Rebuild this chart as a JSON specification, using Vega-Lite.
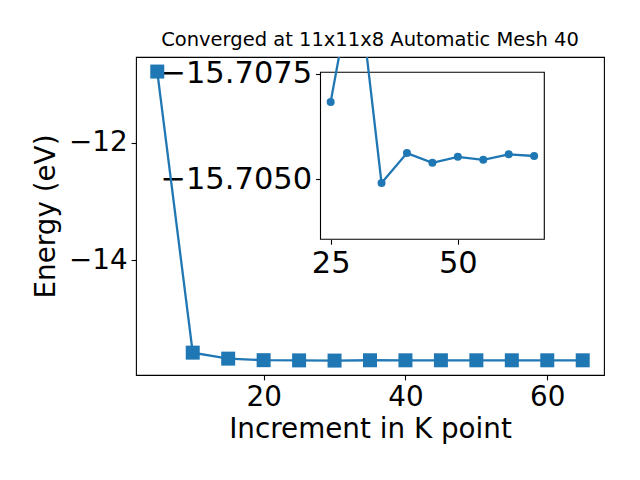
{
  "$schema": "https://vega.github.io/schema/vega-lite/v6.json",
  "width": 468,
  "height": 318,
  "autosize": {"type": "none"},
  "padding": {"left": 136, "top": 57, "right": 36, "bottom": 105},
  "background": "white",
  "title": {
    "text": "Converged at 11x11x8 Automatic Mesh 40",
    "font": "DejaVu Sans",
    "fontSize": 19.5,
    "fontWeight": "normal",
    "color": "black",
    "baseline": "alphabetic",
    "offset": 8,
    "dy": 16
  },
  "config": {
    "view": {"stroke": "black", "strokeWidth": 1.1},
    "axis": {
      "labelFont": "DejaVu Sans",
      "titleFont": "DejaVu Sans",
      "labelFontSize": 27.8,
      "titleFontSize": 27.8,
      "titleFontWeight": "normal",
      "labelColor": "black",
      "titleColor": "black",
      "tickColor": "black",
      "tickWidth": 1.1,
      "tickSize": 4.9,
      "labelPadding": 4,
      "grid": false,
      "domain": false
    }
  },
  "datasets": {
    "kpoints": [
      {"k": 5, "energy": -10.785},
      {"k": 10, "energy": -15.575},
      {"k": 15, "energy": -15.677},
      {"k": 20, "energy": -15.7035},
      {"k": 25, "energy": -15.70683},
      {"k": 30, "energy": -15.7101},
      {"k": 35, "energy": -15.70491},
      {"k": 40, "energy": -15.70562},
      {"k": 45, "energy": -15.70539},
      {"k": 50, "energy": -15.70553},
      {"k": 55, "energy": -15.70546},
      {"k": 60, "energy": -15.70559},
      {"k": 65, "energy": -15.70555}
    ],
    "frame": [{"panel": "inset"}]
  },
  "layer": [
    {
      "data": {"name": "kpoints"},
      "encoding": {
        "x": {
          "field": "k", "type": "quantitative",
          "scale": {"domain": [2, 68], "nice": false, "zero": false},
          "axis": {"orient": "bottom", "values": [20, 40, 60], "format": "d", "title": "Increment in K point", "titlePadding": 4}
        },
        "y": {
          "field": "energy", "type": "quantitative",
          "scale": {"domain": [-15.956, -10.537], "nice": false, "zero": false},
          "axis": {"orient": "left", "values": [-14, -12], "format": "d", "title": "Energy (eV)", "titlePadding": 8, "labelExpr": "replace(datum.label, '-', '\u2212')"}
        }
      },
      "layer": [
        {"mark": {"type": "line", "color": "#1f77b4", "strokeWidth": 2.3}},
        {"mark": {"type": "point", "shape": "square", "filled": true, "color": "#1f77b4", "size": 196, "opacity": 1}}
      ]
    },
    {
      "layer": [
        {
          "data": {"name": "frame"},
          "mark": {"type": "rect", "fill": "white", "stroke": "black", "strokeWidth": 1.1},
          "encoding": {
            "x": {"datum": 23, "type": "quantitative", "scale": {"domain": [23, 67], "range": [184.5, 408.3], "nice": false, "zero": false}, "axis": {"orient": "bottom", "offset": -135.7, "values": [25, 50], "format": "d", "title": null, "labelFontSize": 30.5}},
            "x2": {"datum": 67},
            "y": {"datum": -15.70753, "type": "quantitative", "scale": {"domain": [-15.70753, -15.70358], "range": [15.3, 182.3], "nice": false, "zero": false}, "axis": {"orient": "left", "offset": -184.5, "values": [-15.7075, -15.705], "format": ".4f", "title": null, "labelFontSize": 30.5, "labelExpr": "replace(datum.label, '-', '\u2212')"}},
            "y2": {"datum": -15.70358}
          }
        },
        {
          "data": {"name": "kpoints"},
          "transform": [{"filter": "datum.k >= 25"}],
          "encoding": {
            "x": {"field": "k", "type": "quantitative", "scale": {"domain": [23, 67], "range": [184.5, 408.3], "nice": false, "zero": false}, "axis": {"orient": "bottom", "offset": -135.7, "values": [25, 50], "format": "d", "title": null, "labelFontSize": 30.5}},
            "y": {"field": "energy", "type": "quantitative", "scale": {"domain": [-15.70753, -15.70358], "range": [15.3, 182.3], "nice": false, "zero": false}, "axis": {"orient": "left", "offset": -184.5, "values": [-15.7075, -15.705], "format": ".4f", "title": null, "labelFontSize": 30.5, "labelExpr": "replace(datum.label, '-', '\u2212')"}}
          },
          "layer": [
            {"mark": {"type": "line", "color": "#1f77b4", "strokeWidth": 2.3, "clip": true}},
            {"mark": {"type": "point", "shape": "circle", "filled": true, "color": "#1f77b4", "size": 64, "opacity": 1, "clip": true}}
          ]
        }
      ]
    }
  ],
  "resolve": {
    "scale": {"x": "independent", "y": "independent"},
    "axis": {"x": "independent", "y": "independent"}
  }
}
